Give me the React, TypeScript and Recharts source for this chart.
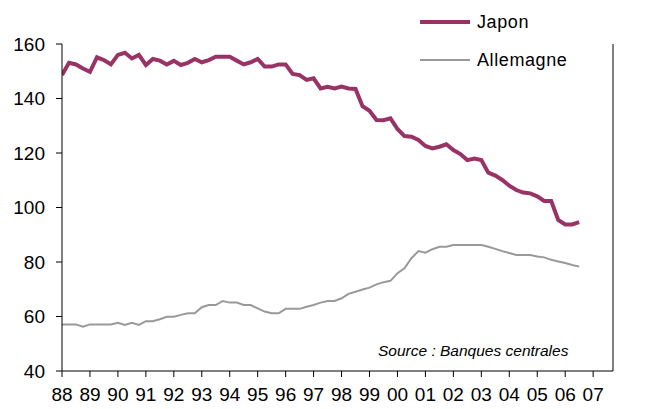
import { LineChart, Line, XAxis, YAxis } from 'recharts'

// quarterly, starting 1988 Q1
const START_YEAR = 1988
const japon = [
    148.6, 153.1, 152.5, 151.0,
    149.8, 155.1, 154.1, 152.5,
    156.0, 156.8, 154.7, 156.0,
    152.3, 154.5, 153.9, 152.5,
    153.8, 152.3, 153.1, 154.5,
    153.3, 154.1, 155.3, 155.3,
    155.3, 153.9, 152.5, 153.3,
    154.5, 151.7, 151.7, 152.5,
    152.5, 149.0, 148.6, 146.8,
    147.4, 143.7, 144.3, 143.7,
    144.4, 143.7, 143.5, 137.2,
    135.5, 132.1, 132.0, 132.7,
    128.8, 126.2, 126.0, 124.8,
    122.6, 121.7, 122.3, 123.2,
    121.1, 119.6, 117.4, 118.0,
    117.4, 112.8, 111.7, 110.1,
    108.0, 106.4, 105.5, 105.2,
    104.1, 102.4, 102.4, 95.4,
    93.8, 93.8, 94.6,
]
const allemagne = [
    57.1, 57.1, 57.1, 56.3,
    57.1, 57.1, 57.1, 57.1,
    57.7, 56.9, 57.7, 56.9,
    58.3, 58.3, 59.0, 59.9,
    59.9, 60.6, 61.2, 61.2,
    63.4, 64.2, 64.2, 65.7,
    65.1, 65.1, 64.2, 64.2,
    63.0, 61.8, 61.2, 61.2,
    62.8, 62.8, 62.8, 63.6,
    64.2, 65.1, 65.7, 65.7,
    66.7, 68.3, 69.1, 69.9,
    70.6, 71.8, 72.6, 73.1,
    75.9, 77.7, 81.4, 84.0,
    83.4, 84.7, 85.6, 85.6,
    86.2, 86.2, 86.2, 86.2,
    86.2, 85.6, 84.8, 84.0,
    83.3, 82.6, 82.6, 82.6,
    82.0, 81.7, 80.8, 80.2,
    79.6, 78.9, 78.3,
]
const yearTicks = [1988, 1989, 1990, 1991, 1992, 1993, 1994, 1995, 1996, 1997,
    1998, 1999, 2000, 2001, 2002, 2003, 2004, 2005, 2006, 2007]
const valueTicks = [40, 60, 80, 100, 120, 140, 160]

const JAPON_COLOR = '#993366'
const ALLEMAGNE_COLOR = '#999999'
const FONT = '"Liberation Sans", Arial, sans-serif'

const data = japon.map((v, i) => ({
    x: START_YEAR + i / 4,
    japon: v,
    allemagne: allemagne[i],
}))

function LegendBox() {
    const items = [
        { label: 'Japon', color: JAPON_COLOR, width: 4 },
        { label: 'Allemagne', color: ALLEMAGNE_COLOR, width: 2 },
    ]
    return (
        <svg width={200} height={80} style={{ position: 'absolute', left: 418, top: 8, overflow: 'visible' }}>
            {items.map((it, i) => (
                <g key={it.label} transform={`translate(0, ${i * 38})`}>
                    <line x1={2} x2={52} y1={14} y2={14} stroke={it.color} strokeWidth={it.width} />
                    <text x={59} y={14} dy="0.355em" fontSize={18} fontFamily={FONT} fill="#000" letterSpacing={0.6}>
                        {it.label}
                    </text>
                </g>
            ))}
        </svg>
    )
}

export default function App() {
    const tickStyle = { fill: '#000', fontSize: 19, fontFamily: FONT }
    return (
        <div style={{ position: 'absolute', left: 0, top: 0, width: 665, height: 409, background: '#fff' }}>
            <LineChart width={665} height={409} data={data} margin={{ top: 44, right: 0, bottom: 0, left: 0 }}>
                <XAxis
                    dataKey="x"
                    type="number"
                    domain={[1988, 2007.71]}
                    ticks={yearTicks}
                    allowDataOverflow
                    tickFormatter={(v: number) => String(v % 100).padStart(2, '0')}
                    tick={tickStyle}
                    stroke="#000"
                    tickSize={6}
                    tickMargin={11}
                    height={38}
                    interval={0}
                />
                <YAxis
                    yAxisId="left"
                    domain={[40, 160]}
                    ticks={valueTicks}
                    tick={tickStyle}
                    stroke="#000"
                    tickSize={6}
                    tickMargin={11}
                    width={62}
                    interval={0}
                />
                <YAxis
                    yAxisId="right"
                    orientation="right"
                    domain={[40, 160]}
                    ticks={valueTicks}
                    tick={tickStyle}
                    stroke="#000"
                    tickSize={6}
                    tickMargin={10}
                    width={52}
                    interval={0}
                />
                <Line
                    yAxisId="left"
                    dataKey="allemagne"
                    name="Allemagne"
                    stroke={ALLEMAGNE_COLOR}
                    strokeWidth={2}
                    dot={false}
                    isAnimationActive={false}
                />
                <Line
                    yAxisId="left"
                    dataKey="japon"
                    name="Japon"
                    stroke={JAPON_COLOR}
                    strokeWidth={4}
                    dot={false}
                    isAnimationActive={false}
                />
            </LineChart>
            <LegendBox />
            <div
                style={{
                    position: 'absolute',
                    left: 378,
                    top: 342,
                    fontFamily: FONT,
                    fontStyle: 'italic',
                    fontSize: 15.5,
                    color: '#000',
                    whiteSpace: 'nowrap',
                }}
            >
                Source : Banques centrales
            </div>
        </div>
    )
}
